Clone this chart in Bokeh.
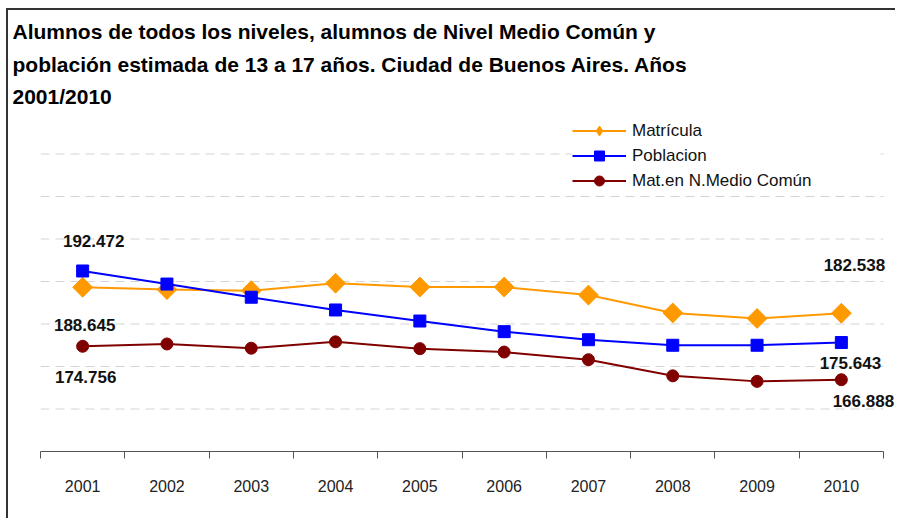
import math
from bokeh.plotting import figure
from bokeh.models import FixedTicker, Range1d, Label, Legend, LegendItem
from bokeh.embed import file_html
from bokeh.resources import INLINE

# ---- data ----
years = [2001, 2002, 2003, 2004, 2005, 2006, 2007, 2008, 2009, 2010]
matricula = [188645, 188100, 187850, 189600, 188700, 188700, 186800, 182600, 181300, 182538]
poblacion = [192472, 189400, 186300, 183300, 180700, 178200, 176300, 175000, 175000, 175643]
medio_comun = [174756, 175300, 174300, 175800, 174200, 173400, 171600, 167800, 166500, 166888]
series_names = ["Matrícula", "Poblacion", "Mat.en N.Medio Común"]
title_lines = [
    "Alumnos de todos los niveles, alumnos de Nivel Medio Común y",
    "población estimada de 13 a 17 años. Ciudad de Buenos Aires. Años",
    "2001/2010",
]
grid_values = [160000, 170000, 180000, 190000, 200000, 210000, 220000]

colors = ["#FF9900", "#0000FF", "#800000"]
FONT = "Liberation Sans"

p = figure(width=889, height=510, output_backend="svg", toolbar_location=None,
           x_range=Range1d(2000.5, 2010.666), y_range=Range1d(150000, 230000),
           min_border_left=32, min_border_right=0, min_border_top=101,
           min_border_bottom=69)
p.styles = {"border-top": "2px solid #333", "border-left": "2px solid #333",
            "margin-left": "6px", "margin-top": "8px"}
p.outline_line_color = None
p.background_fill_color = "white"
p.border_fill_color = "white"

# title
p.title.text = "\n".join(title_lines)
p.title.text_font = FONT
p.title.text_font_size = "21px"
p.title.text_font_style = "bold"
p.title.text_color = "#000000"
p.title.align = "left"
p.title.offset = -28
p.title.standoff = 7
p.title.text_line_height = 1.41

# axes / grid
p.yaxis.visible = False
p.xgrid.visible = False
p.ygrid.visible = False
x_lo, x_hi = years[0] - 0.5, years[-1] + 0.5
p.segment(x0=[x_lo] * len(grid_values), x1=[x_hi] * len(grid_values),
          y0=grid_values, y1=grid_values, line_color="#d4d4d4",
          line_dash="9 6", line_width=1)

xa = p.xaxis[0]
xa.bounds = (x_lo, x_hi)
xa.ticker = FixedTicker(ticks=years, minor_ticks=[y - 0.5 for y in years] + [x_hi])
xa.major_tick_out = 0
xa.major_tick_in = 0
xa.minor_tick_out = 7
xa.minor_tick_in = 0
xa.minor_tick_line_color = "#555555"
xa.axis_line_color = "#555555"
xa.major_label_overrides = {y: str(y) for y in years}
xa.major_label_text_font = FONT
xa.major_label_text_font_size = "16px"
xa.major_label_text_color = "#222222"
xa.major_label_standoff = 21

# series
all_series = [matricula, poblacion, medio_comun]
markers = [("square", math.pi / 4, 14), ("square", 0, 12), ("circle", 0, 12)]
items = []
for i, (vals, name, col, (mk, ang, sz)) in enumerate(zip(all_series, series_names,
                                                         colors, markers)):
    lr = p.line(years, vals, line_color=col, line_width=2)
    rs = []
    if i == 0:
        # diamond for the legend; hidden underneath the rotated squares in the plot
        rs.append(p.scatter(years, vals, marker="diamond", size=19,
                            fill_color=col, line_color=col))
    sr = p.scatter(years, vals, marker=mk, angle=ang, size=sz, fill_color=col,
                   line_color=col)
    if i != 0:
        rs.append(sr)
    items.append(LegendItem(label=name, renderers=[lr] + rs))

# value labels at the ends (series index, point index, x offset, y offset)
label_specs = [(1, 0, 11, 30), (0, 0, 2, -38), (2, 0, 3, -31),
               (0, 9, 13, 48), (1, 9, 9, -20), (2, 9, 22, -21)]
for si, pi, dx, dy in label_specs:
    v = all_series[si][pi]
    p.add_layout(Label(x=years[pi], y=v, x_offset=dx, y_offset=dy,
                       text=f"{v:,}".replace(",", "."), text_align="center",
                       text_baseline="middle", text_font=FONT,
                       text_font_size="17px", text_font_style="bold",
                       text_color="#111111"))

# legend
lg = Legend(items=items, location=(532, 258), glyph_width=54, glyph_height=25,
            label_height=25, label_width=248, spacing=0, padding=0, margin=0,
            border_line_color=None, background_fill_alpha=1, label_standoff=6,
            label_text_font=FONT, label_text_font_size="17px",
            label_text_color="#111111")
p.add_layout(lg, "center")

open("out.html", "w").write(file_html(p, INLINE))
